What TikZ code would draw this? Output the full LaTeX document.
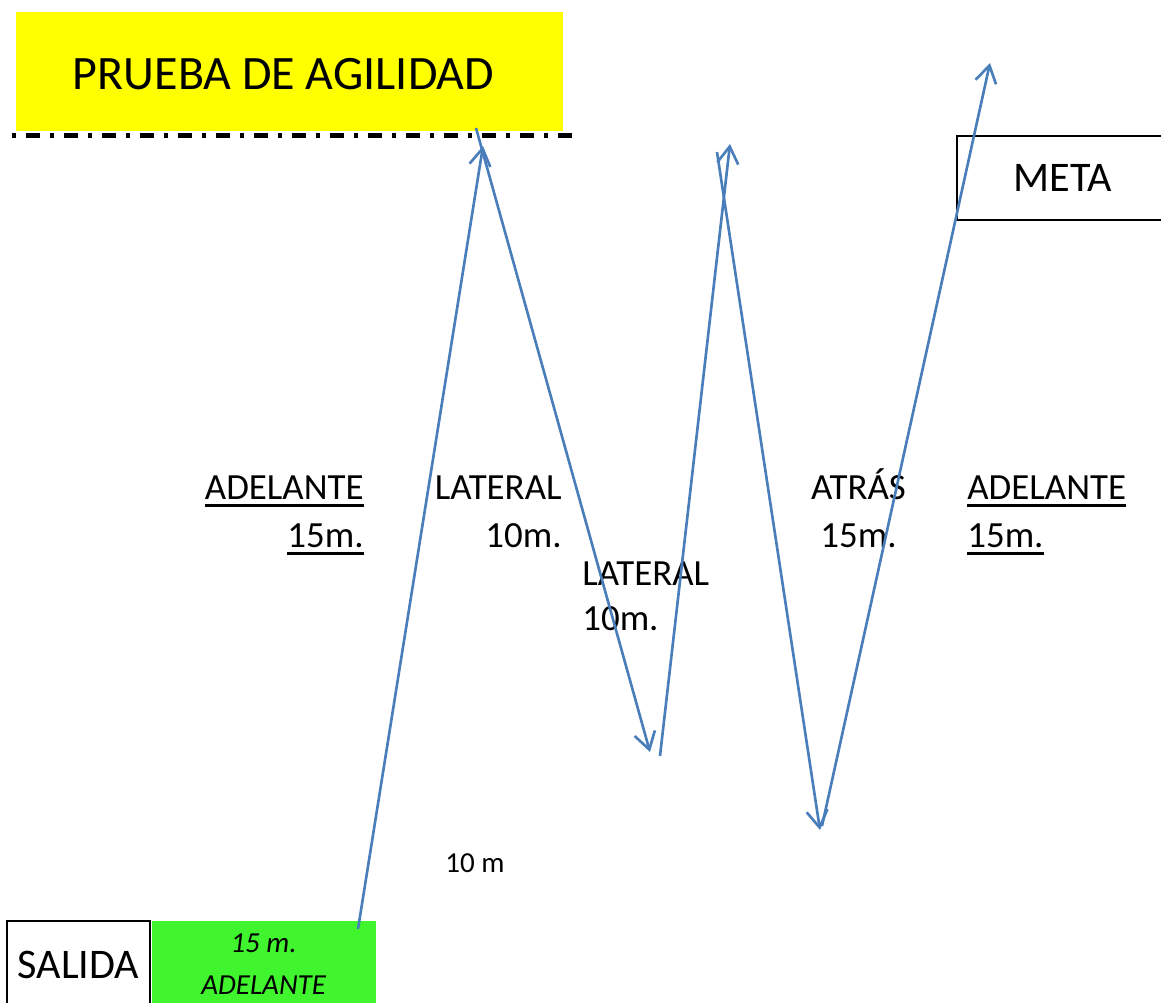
\documentclass[tikz,border=0pt]{standalone}
\usepackage{fontspec}
\setmainfont{Carlito}
\usetikzlibrary{shapes, arrows, arrows.meta, positioning}
\definecolor{azul}{RGB}{74,126,187}
\definecolor{verde}{RGB}{64,245,45}
\definecolor{amarillo}{RGB}{255,255,0}
\newcommand{\subr}[1]{\setbox0=\hbox{#1}\rlap{\rule[-4.3pt]{\wd0}{1.7pt}}\box0}

\begin{document}
\begin{tikzpicture}[x=0.02cm, y=-0.02cm, node distance=0pt,
    caja/.style={draw, rectangle, line width=1.5pt, inner sep=0pt, font=\fontsize{24}{29}\selectfont},
    etiq/.style={inner sep=0pt, font=\fontsize{21}{27.3}\selectfont},
    flecha/.style={draw=azul, line width=1.5pt, -{Straight Barb[length=3.4mm, width=4.2mm]}}]
        \useasboundingbox (0,0) rectangle (1161,1002);
        \clip (0,0) rectangle (1161,1002);

        % Draw the blocks
        \node (titulo) [rectangle, fill=amarillo, minimum width=10.96cm, minimum height=2.38cm, text height=0.73cm, font=\fontsize{27.3}{33}\selectfont] at (289.5,71.5) {PRUEBA DE AGILIDAD\hspace{0.24cm}\mbox{}};
        \node (meta)   [caja, minimum width=4.24cm, minimum height=1.68cm] at (1063,178) {META};
        \node (salida) [caja, minimum width=2.86cm, minimum height=1.74cm] at (78.5,964.5) {SALIDA};
        \node (tramo)  [rectangle, fill=verde, minimum width=4.48cm, minimum height=1.74cm, inner sep=0pt, align=center, font=\itshape\fontsize{16.5}{24}\selectfont, right=of salida] {15 m.\\ADELANTE};

        % Draw the line of cones
        \coordinate (rayaA) at (12,135.5);
        \coordinate (rayaB) at (572,135.5);
        \draw [line width=2.8pt, dash pattern=on 0.08cm off 0.2cm on 0.28cm off 0.2cm] (rayaA) -- (rayaB);

        % Add the labels
        \node (adel1) [etiq, align=right, anchor=base east] at (364,547) {\subr{ADELANTE}\\\subr{15m.}};
        \node (lat1)  [etiq, align=right, anchor=base east] at (562,547) {LATERAL\\10m.};
        \node (lat2)  [etiq, align=left, anchor=base west, font=\fontsize{21}{25.6}\selectfont] at (582,630) {LATERAL\\10m.};
        \node (atras) [etiq, align=center, anchor=base] at (858.5,547) {ATRÁS\\15m.};
        \node (adel2) [etiq, align=left, anchor=base west] at (967,547) {\subr{ADELANTE}\\\subr{15m.}};
        \node (dist)  [etiq, anchor=base west, font=\fontsize{16.5}{20}\selectfont] at (445,872) {10 m};

        % Draw the connecting arrows
        \coordinate (ini1) at (358,929);
        \coordinate (fin1) at (483,146);
        \coordinate (ini2) at (476,128);
        \coordinate (fin2) at (650,752);
        \coordinate (ini3) at (660,756);
        \coordinate (fin3) at (730,144);
        \coordinate (ini4) at (717,152);
        \coordinate (fin4) at (820,830);
        \coordinate (ini5) at (822,826);
        \coordinate (fin5) at (990,63);
        \draw [flecha] (ini1) -- (fin1);
        \draw [flecha] (ini2) -- (fin2);
        \draw [flecha] (ini3) -- (fin3);
        \draw [flecha] (ini4) -- (fin4);
        \draw [flecha] (ini5) -- (fin5);
    \end{tikzpicture}
\end{document}
